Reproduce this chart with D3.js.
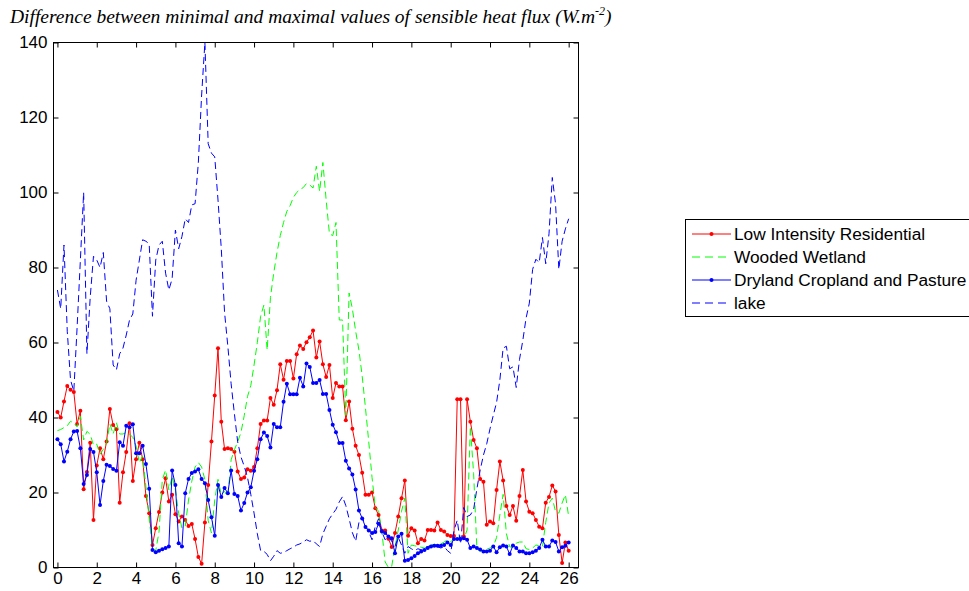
<!DOCTYPE html>
<html>
<head>
<meta charset="utf-8">
<script src="https://cdn.jsdelivr.net/npm/d3@7"></script>
<style>
    body { margin: 0; background: #fff; }
    .tick text { font-family: "Liberation Sans", Arial, sans-serif; font-size: 17px; fill: #000; }
    .tick line { stroke: #000; }
    .title { font-family: "Liberation Serif", "Times New Roman", serif; font-style: italic; font-size: 19.5px; }
    .legendText { font-family: "Liberation Sans", Arial, sans-serif; font-size: 17.3px; }
</style>
</head>
<body>
<div id="chart"></div>
<script>
// sampling step of the series (days), values every 4 hours
var step = 1 / 6;

var xTicks = [0, 2, 4, 6, 8, 10, 12, 14, 16, 18, 20, 22, 24, 26];
var yTicks = [0, 20, 40, 60, 80, 100, 120, 140];

var seriesNames = ["Low Intensity Residential", "Wooded Wetland", "Dryland Cropland and Pasture", "lake"];

var residential = [
    41.5, 40, 44.3, 48.4, 47.4, 46.8, 38.3, 41.8, 20.9, 25.5, 33.3, 12.7,
    27.2, 31.8, 28.9, 33.6, 42.3, 38, 36.9, 17.3, 25.4, 30.8, 38.5, 23.1,
    28.9, 33.3, 28.9, 19.1, 14.5, 6, 10.5, 14.8, 20, 23.8, 17.6, 19.4,
    14.2, 12.3, 13.6, 12.7, 11.1, 11.6, 7.6, 2.8, 1.0, 12, 22, 33.6,
    45.9, 58.5, 38.9, 31.6, 31.8, 31.6, 30.9, 25.6, 23.6, 24, 26.2, 25.8,
    26.8, 31.8, 38.3, 39.2, 39.2, 45.2, 43.4, 47.3, 54.2, 50.1, 55.1, 55.1,
    50.4, 56.9, 59.2, 58.3, 60.1, 61.4, 63.2, 56, 60.3, 54.2, 50.8, 54,
    45.2, 49.2, 48.3, 48.3, 39.3, 44.3, 37, 32.5, 30, 25.3, 19.4, 19.4,
    20, 15.8, 14, 9.9, 9.9, 7.7, 5.5, 9.2, 13.6, 18.5, 23.2, 8.5,
    10.5, 9.9, 6.5, 7.6, 7.2, 10, 10, 9.9, 12, 10, 9.6, 8.7,
    8.4, 8.4, 44.9, 44.9, 8.3, 44.9, 38.9, 34, 31.8, 23.6, 22.9, 11.4,
    12.3, 11.8, 20.7, 28.3, 23.2, 16.4, 14, 16.4, 12.5, 19.1, 26, 17.6,
    14.9, 14.5, 12.7, 10.9, 10.5, 17.3, 18.8, 21.9, 20.3, 8.7, 1.2, 6.7,
    4.5
];

var wetland = [
    36.5, 36.8, 37.3, 37.8, 39, 38.5, 37.5, 40.3, 34, 36.3, 35.5, 32.6,
    32.9, 30.2, 31.5, 33.3, 38.3, 35.6, 38.6, 35.6, 35.6, 36, 35.6, 34.7,
    32.4, 27.9, 29.7, 21.6, 13, 5, 4.5, 9.5, 23.4, 26, 20.7, 24.3,
    20.7, 14.4, 10.5, 11, 18, 23, 26.8, 28, 26.8, 23.4, 12.5, 9.2,
    18, 23.5, 19.4, 20.3, 19, 28.7, 31.4, 33.5, 36, 40.5, 45.6, 48.5,
    54, 60, 67, 70, 58, 72, 78.5, 84, 88.5, 92, 95, 96.5,
    98.7, 100, 100.8, 101.3, 102.4, 102, 101.2, 107, 100.3, 108, 98, 89,
    88.5, 92, 66, 66, 40.6, 73.2, 69, 63, 58, 51, 42.5, 33.5,
    24, 16, 15, 9.5, 1.5, 0, 0.3, 5.5, 10, 15, 18.5, 3.8,
    6, 5.8, 5.6, 5.4, 5.2, 5.6, 6, 6.2, 5.8, 6.3, 6.8, 7.4,
    6.8, 7.8, 8.3, 7.8, 7.6, 10, 37.6, 25, 5, 4.3, 4.6, 4.9,
    5.2, 5.6, 8, 14, 19.5, 9, 5.5, 5.4, 6.5, 6.8, 6.8, 5,
    4.8, 5.2, 6, 5.8, 5.6, 12, 17.2, 18.5, 14.9, 14.5, 17.2, 19.4,
    13.6
];

var cropland = [
    34.2, 32.9, 28.3, 30.9, 34.2, 36.3, 36.4, 31.8, 22.3, 24.7, 31.6, 30.8,
    25.4, 16.7, 23.1, 27.4, 27.1, 26.3, 25.8, 33.4, 32.5, 37.8, 37.4, 38.2,
    30.5, 30.5, 32.5, 27.6, 21, 4.7, 4.1, 4.5, 4.9, 5.2, 5.6, 25.9,
    22, 6.5, 5.6, 19.8, 23.6, 25.2, 25.6, 26.2, 23.6, 22.5, 18, 13.4,
    8.5, 22, 18.8, 21.2, 19.8, 25.9, 19.6, 19.1, 15.2, 17.2, 20, 21.4,
    25.8, 28.9, 34.2, 36, 35.1, 32, 38.3, 37.4, 37.4, 44.2, 49, 46.2,
    46.2, 46.2, 50.6, 48.3, 54.4, 53.5, 49.2, 49.2, 50, 46.3, 46.3, 42,
    38.1, 36.1, 33.2, 33.2, 28.5, 26.4, 24.8, 20.8, 15.2, 13.1, 10.8, 9.9,
    9.2, 9.5, 11.7, 9.6, 9.2, 8.3, 7.8, 3.8, 8.3, 9, 1.8, 2,
    2.5, 3.1, 3.8, 4.3, 4.7, 5.2, 5.6, 5.8, 5.8, 5.8, 6, 6.7,
    6, 7.6, 7.6, 7.6, 7.8, 7.4, 5.2, 5.6, 5.2, 4.8, 4.3, 4.3,
    4.5, 5.6, 4.1, 5.4, 5.9, 5.6, 3.6, 5.9, 5.2, 4.3, 4.3, 3.8,
    3.8, 4.1, 4.5, 5.2, 7.4, 5.6, 5.6, 7.2, 6.8, 4.3, 5.4, 5.8,
    6.7
];

var lake = [
    74, 69, 86, 63, 50, 47, 64, 82, 100, 57, 72, 83,
    82, 80, 84, 71, 69, 54, 52.7, 57, 58.5, 62, 66, 67.6,
    76.6, 82, 87.4, 87, 86.3, 67, 82, 86, 87, 78.5, 74, 77,
    90, 85, 88.3, 93, 92, 96.7, 97, 108, 126, 140, 113, 110.5,
    109.5, 98, 85, 68, 59, 49, 41, 33.5, 29.5, 27, 24, 19.5,
    14.5, 9, 4.5, 4.3, 3.5, 1.8, 3, 4.5, 3.8, 4, 4.5, 5,
    5.4, 6, 6.3, 6.8, 7.4, 7, 7.2, 6.3, 5.6, 9, 11, 13,
    14.3, 15.5, 17.5, 18.9, 16.5, 13, 9.3, 7, 12, 13.5, 11, 9.5,
    7.4, 11, 13, 9.5, 7.4, 8.3, 7, 5.6, 8, 6, 3.8, 5.6,
    5, 4.5, 5, 4.7, 5.2, 5.6, 5.8, 6, 5.5, 5.2, 5.6, 4.5,
    3.8, 9.9, 12.6, 6.3, 16, 13.6, 14, 15.5, 21, 26, 30, 33,
    37, 40.6, 44, 50, 58.5, 59, 53, 53.5, 48, 55.5, 60.5, 66.5,
    70.5, 79.5, 82.2, 81.3, 88, 81, 89, 104, 97, 79.5, 87, 90.3,
    93
];

function init ()
{
    var w = 969;
    var h = 591;
    var left = 53.5, right = 578.5, top = 42.5, bottom = 567.5;

    var svg = d3.select("#chart")
        .append("svg")
        .attr("width", w)
        .attr("height", h);

    var times = d3.range(residential.length).map(function(i) { return i * step; });

    var xScale = d3.scaleLinear()
        .domain([-0.2, 26.5])
        .range([left, right]);

    var yScale = d3.scaleLinear()
        .domain([0, 140])
        .range([bottom, top]);

    //title
    var title = svg.append("text")
        .attr("class", "title")
        .attr("x", 10)
        .attr("y", 23)
        .text("Difference between minimal and maximal values of sensible heat flux (W.m");
    title.append("tspan")
        .attr("font-size", "12px")
        .attr("dy", -8)
        .text("-2");
    title.append("tspan")
        .attr("dy", 8)
        .text(")");

    //axes, ticks inward on all four sides
    svg.append("g")
        .attr("transform", "translate(0," + bottom + ")")
        .call(d3.axisBottom(xScale).tickValues(xTicks).tickSizeInner(-5).tickSizeOuter(0).tickPadding(4))
        .call(function(g) { g.select(".domain").remove(); });

    svg.append("g")
        .attr("transform", "translate(0," + top + ")")
        .call(d3.axisTop(xScale).tickValues(xTicks).tickSizeInner(-5).tickSizeOuter(0).tickFormat(""))
        .call(function(g) { g.select(".domain").remove(); });

    svg.append("g")
        .attr("transform", "translate(" + left + ",0)")
        .call(d3.axisLeft(yScale).tickValues(yTicks).tickSizeInner(-5).tickSizeOuter(0).tickPadding(6))
        .call(function(g) { g.select(".domain").remove(); });

    svg.append("g")
        .attr("transform", "translate(" + right + ",0)")
        .call(d3.axisRight(yScale).tickValues(yTicks).tickSizeInner(-5).tickSizeOuter(0).tickFormat(""))
        .call(function(g) { g.select(".domain").remove(); });

    svg.selectAll(".tick text").attr("fill", "#000");

    //clip to the plot box
    svg.append("clipPath")
        .attr("id", "plotClip")
        .append("rect")
        .attr("x", left)
        .attr("y", top)
        .attr("width", right - left)
        .attr("height", bottom - top);

    var plot = svg.append("g").attr("clip-path", "url(#plotClip)");

    var line = d3.line()
        .x(function(d, i) { return xScale(times[i]); })
        .y(function(d) { return yScale(d); });

    var styles = [
        { data: residential, color: "#ff0000", dash: null, dots: true },
        { data: wetland, color: "#00ff00", dash: "7,4", dots: false },
        { data: cropland, color: "#0000ff", dash: null, dots: true },
        { data: lake, color: "#0000ff", dash: "7,4", dots: false }
    ];

    styles.forEach(function(s) {
        plot.append("path")
            .datum(s.data)
            .attr("d", line)
            .attr("fill", "none")
            .attr("stroke", s.color)
            .attr("stroke-width", 1)
            .attr("stroke-dasharray", s.dash);

        if (s.dots) {
            plot.selectAll(null)
                .data(s.data)
                .enter()
                .append("circle")
                .attr("cx", function(d, i) { return xScale(times[i]); })
                .attr("cy", function(d) { return yScale(d); })
                .attr("r", 2)
                .attr("fill", s.color);
        }
    });

    //plot frame
    svg.append("rect")
        .attr("x", left)
        .attr("y", top)
        .attr("width", right - left)
        .attr("height", bottom - top)
        .attr("fill", "none")
        .attr("stroke", "#000");

    //legend
    var legend = svg.append("g");
    legend.append("rect")
        .attr("x", 685.5)
        .attr("y", 219.5)
        .attr("width", 300)
        .attr("height", 97)
        .attr("fill", "#fff")
        .attr("stroke", "#000");

    seriesNames.forEach(function(name, i) {
        var y = 234 + i * 23;
        var s = styles[i];
        legend.append("line")
            .attr("x1", 692)
            .attr("x2", 731)
            .attr("y1", y)
            .attr("y2", y)
            .attr("stroke", s.color)
            .attr("stroke-dasharray", s.dash ? "8,5" : null);
        if (s.dots) {
            legend.append("circle")
                .attr("cx", 711.5)
                .attr("cy", y)
                .attr("r", 2)
                .attr("fill", s.color);
        }
        legend.append("text")
            .attr("class", "legendText")
            .attr("x", 734)
            .attr("y", y + 6)
            .text(name);
    });
}

window.onload = init;
</script>
</body>
</html>
